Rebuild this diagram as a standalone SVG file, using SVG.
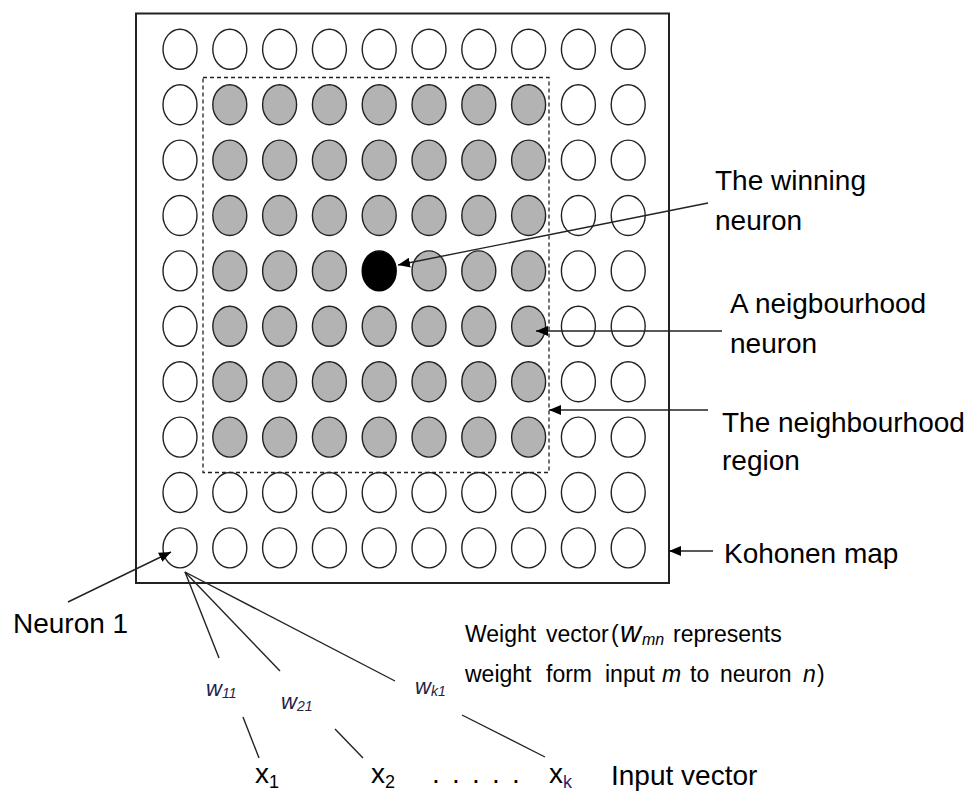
<svg xmlns="http://www.w3.org/2000/svg" width="971" height="792" viewBox="0 0 971 792">
<style>
.off{fill:#fff;stroke:#222;stroke-width:1.4}
.on{fill:#b3b3b3;stroke:#222;stroke-width:1.4}
.win{fill:#000;stroke:#000;stroke-width:1.4}
.ln{stroke:#222;stroke-width:1.4;fill:none}
.t{font-family:"Liberation Sans",Arial,sans-serif;font-size:28px;fill:#000}
.s{font-family:"Liberation Sans",Arial,sans-serif;font-size:23px;fill:#000}
.w{font-family:"Liberation Sans",Arial,sans-serif;font-size:22px;font-style:italic;fill:#1e2248}
.sub{font-size:14px}
</style>
<defs>
<marker id="ah" viewBox="0 0 12 10" refX="12" refY="5" markerWidth="12" markerHeight="10" markerUnits="userSpaceOnUse" orient="auto">
<path d="M0,0 L12,5 L0,10 Z" fill="#000"/>
</marker>
<ellipse id="c" cx="0" cy="0" rx="17" ry="20"/>
</defs>
<rect width="971" height="792" fill="#fff"/>
<g id="kohonen-map">
<rect x="136" y="13.5" width="533" height="569.5" fill="none" stroke="#222" stroke-width="2"/>
<g id="neurons">
<g id="row1"><use href="#c" class="off" x="180" y="49.3"/><use href="#c" class="off" x="229.8" y="49.3"/><use href="#c" class="off" x="279.6" y="49.3"/><use href="#c" class="off" x="329.4" y="49.3"/><use href="#c" class="off" x="379.2" y="49.3"/><use href="#c" class="off" x="429" y="49.3"/><use href="#c" class="off" x="478.8" y="49.3"/><use href="#c" class="off" x="528.6" y="49.3"/><use href="#c" class="off" x="578.4" y="49.3"/><use href="#c" class="off" x="628.2" y="49.3"/></g>
<g id="row2"><use href="#c" class="off" x="180" y="104.7"/><use href="#c" class="on" x="229.8" y="104.7"/><use href="#c" class="on" x="279.6" y="104.7"/><use href="#c" class="on" x="329.4" y="104.7"/><use href="#c" class="on" x="379.2" y="104.7"/><use href="#c" class="on" x="429" y="104.7"/><use href="#c" class="on" x="478.8" y="104.7"/><use href="#c" class="on" x="528.6" y="104.7"/><use href="#c" class="off" x="578.4" y="104.7"/><use href="#c" class="off" x="628.2" y="104.7"/></g>
<g id="row3"><use href="#c" class="off" x="180" y="160.1"/><use href="#c" class="on" x="229.8" y="160.1"/><use href="#c" class="on" x="279.6" y="160.1"/><use href="#c" class="on" x="329.4" y="160.1"/><use href="#c" class="on" x="379.2" y="160.1"/><use href="#c" class="on" x="429" y="160.1"/><use href="#c" class="on" x="478.8" y="160.1"/><use href="#c" class="on" x="528.6" y="160.1"/><use href="#c" class="off" x="578.4" y="160.1"/><use href="#c" class="off" x="628.2" y="160.1"/></g>
<g id="row4"><use href="#c" class="off" x="180" y="215.5"/><use href="#c" class="on" x="229.8" y="215.5"/><use href="#c" class="on" x="279.6" y="215.5"/><use href="#c" class="on" x="329.4" y="215.5"/><use href="#c" class="on" x="379.2" y="215.5"/><use href="#c" class="on" x="429" y="215.5"/><use href="#c" class="on" x="478.8" y="215.5"/><use href="#c" class="on" x="528.6" y="215.5"/><use href="#c" class="off" x="578.4" y="215.5"/><use href="#c" class="off" x="628.2" y="215.5"/></g>
<g id="row5"><use href="#c" class="off" x="180" y="270.9"/><use href="#c" class="on" x="229.8" y="270.9"/><use href="#c" class="on" x="279.6" y="270.9"/><use href="#c" class="on" x="329.4" y="270.9"/><use href="#c" class="win" x="379.2" y="270.9"/><use href="#c" class="on" x="429" y="270.9"/><use href="#c" class="on" x="478.8" y="270.9"/><use href="#c" class="on" x="528.6" y="270.9"/><use href="#c" class="off" x="578.4" y="270.9"/><use href="#c" class="off" x="628.2" y="270.9"/></g>
<g id="row6"><use href="#c" class="off" x="180" y="326.3"/><use href="#c" class="on" x="229.8" y="326.3"/><use href="#c" class="on" x="279.6" y="326.3"/><use href="#c" class="on" x="329.4" y="326.3"/><use href="#c" class="on" x="379.2" y="326.3"/><use href="#c" class="on" x="429" y="326.3"/><use href="#c" class="on" x="478.8" y="326.3"/><use href="#c" class="on" x="528.6" y="326.3"/><use href="#c" class="off" x="578.4" y="326.3"/><use href="#c" class="off" x="628.2" y="326.3"/></g>
<g id="row7"><use href="#c" class="off" x="180" y="381.7"/><use href="#c" class="on" x="229.8" y="381.7"/><use href="#c" class="on" x="279.6" y="381.7"/><use href="#c" class="on" x="329.4" y="381.7"/><use href="#c" class="on" x="379.2" y="381.7"/><use href="#c" class="on" x="429" y="381.7"/><use href="#c" class="on" x="478.8" y="381.7"/><use href="#c" class="on" x="528.6" y="381.7"/><use href="#c" class="off" x="578.4" y="381.7"/><use href="#c" class="off" x="628.2" y="381.7"/></g>
<g id="row8"><use href="#c" class="off" x="180" y="437.1"/><use href="#c" class="on" x="229.8" y="437.1"/><use href="#c" class="on" x="279.6" y="437.1"/><use href="#c" class="on" x="329.4" y="437.1"/><use href="#c" class="on" x="379.2" y="437.1"/><use href="#c" class="on" x="429" y="437.1"/><use href="#c" class="on" x="478.8" y="437.1"/><use href="#c" class="on" x="528.6" y="437.1"/><use href="#c" class="off" x="578.4" y="437.1"/><use href="#c" class="off" x="628.2" y="437.1"/></g>
<g id="row9"><use href="#c" class="off" x="180" y="492.5"/><use href="#c" class="off" x="229.8" y="492.5"/><use href="#c" class="off" x="279.6" y="492.5"/><use href="#c" class="off" x="329.4" y="492.5"/><use href="#c" class="off" x="379.2" y="492.5"/><use href="#c" class="off" x="429" y="492.5"/><use href="#c" class="off" x="478.8" y="492.5"/><use href="#c" class="off" x="528.6" y="492.5"/><use href="#c" class="off" x="578.4" y="492.5"/><use href="#c" class="off" x="628.2" y="492.5"/></g>
<g id="row10"><use href="#c" class="off" x="180" y="547.9"/><use href="#c" class="off" x="229.8" y="547.9"/><use href="#c" class="off" x="279.6" y="547.9"/><use href="#c" class="off" x="329.4" y="547.9"/><use href="#c" class="off" x="379.2" y="547.9"/><use href="#c" class="off" x="429" y="547.9"/><use href="#c" class="off" x="478.8" y="547.9"/><use href="#c" class="off" x="528.6" y="547.9"/><use href="#c" class="off" x="578.4" y="547.9"/><use href="#c" class="off" x="628.2" y="547.9"/></g>
</g>
<rect id="neighbourhood-region" x="203" y="77.5" width="346" height="395" fill="none" stroke="#222" stroke-width="1.3" stroke-dasharray="4 3"/>
</g>
<g id="connectors">
<line class="ln" x1="708" y1="203" x2="398" y2="265" marker-end="url(#ah)"/>
<line class="ln" x1="722" y1="331" x2="536" y2="331" marker-end="url(#ah)"/>
<line class="ln" x1="708" y1="410" x2="549" y2="410" marker-end="url(#ah)"/>
<line class="ln" x1="713" y1="551" x2="669" y2="551" marker-end="url(#ah)"/>
<line class="ln" x1="68" y1="602" x2="171" y2="552" marker-end="url(#ah)"/>
<line class="ln" x1="185" y1="572" x2="219" y2="658"/>
<line class="ln" x1="185" y1="572" x2="280" y2="671"/>
<line class="ln" x1="185" y1="572" x2="395" y2="681"/>
<line class="ln" x1="243" y1="717" x2="259" y2="758"/>
<line class="ln" x1="335" y1="729" x2="363" y2="758"/>
<line class="ln" x1="462" y1="715" x2="545" y2="757"/>
</g>
<g id="labels">
<g id="lbl-winning"><text class="t" x="715" y="190">The winning</text><text class="t" x="715" y="230">neuron</text></g>
<g id="lbl-neighbour"><text class="t" x="730" y="313">A neigbourhood</text><text class="t" x="730" y="353">neuron</text></g>
<g id="lbl-region"><text class="t" x="722" y="432">The neighbourhood</text><text class="t" x="722" y="470">region</text></g>
<g id="lbl-map"><text class="t" x="724" y="563">Kohonen map</text></g>
<g id="lbl-neuron1"><text class="t" x="13" y="633">Neuron 1</text></g>
<g id="lbl-weight">
<text class="s" y="642"><tspan x="465">Weight</tspan><tspan x="546">vector</tspan><tspan x="611">(</tspan><tspan x="620" font-style="italic" font-size="29">w</tspan><tspan x="642" dy="3" font-style="italic" font-size="16">mn</tspan><tspan x="673" dy="-3">represents</tspan></text>
<text class="s" y="682"><tspan x="465">weight</tspan><tspan x="546">form</tspan><tspan x="605">input</tspan><tspan x="662" font-style="italic">m</tspan><tspan x="690">to</tspan><tspan x="720">neuron</tspan><tspan x="803" font-style="italic">n</tspan><tspan x="817">)</tspan></text>
</g>
<g id="lbl-w11"><text class="w" x="206" y="696">w<tspan class="sub" dy="2">11</tspan></text></g>
<g id="lbl-w21"><text class="w" x="281" y="709">w<tspan class="sub" dy="2">21</tspan></text></g>
<g id="lbl-wk1"><text class="w" x="415" y="694">w<tspan class="sub" dy="2">k1</tspan></text></g>
<g id="lbl-x1"><text class="t" x="255" y="783" font-size="30">x<tspan font-size="18" dy="5">1</tspan></text></g>
<g id="lbl-x2"><text class="t" x="371" y="783" font-size="30">x<tspan font-size="18" dy="5">2</tspan></text></g>
<g id="lbl-dots"><text class="t" x="432" y="783">.</text><text class="t" x="452" y="783">.</text><text class="t" x="472" y="783">.</text><text class="t" x="492" y="783">.</text><text class="t" x="512" y="783">.</text></g>
<g id="lbl-xk"><text class="t" x="549" y="783" font-size="30">x<tspan font-size="18" dy="5" fill="#3a1a6a">k</tspan></text></g>
<g id="lbl-input"><text class="t" x="611" y="785">Input vector</text></g>
</g>
</svg>
